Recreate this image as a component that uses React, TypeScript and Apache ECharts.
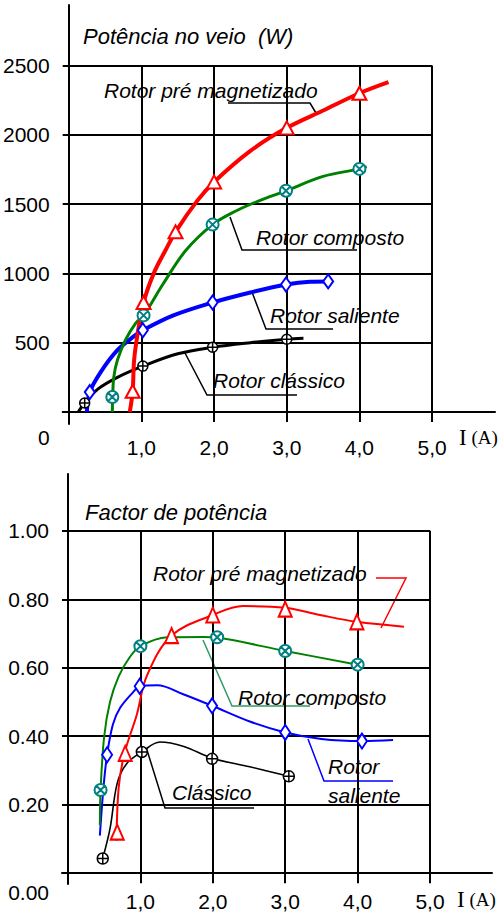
import React, { useEffect, useRef } from "react";
import * as echarts from "echarts";

// ---------- Potência no veio (W) against current I (A) ----------
const preMagPowerPts = [[0.88, 150], [1.03, 790], [1.47, 1300], [2.0, 1660], [3.0, 2050], [4.0, 2300]];
const preMagPowerLine = [[0.84, 0], [0.88, 150], [0.9, 374], [0.95, 570], [1.03, 790], [1.17, 1000], [1.33, 1165], [1.47, 1300], [1.77, 1525], [2.0, 1660], [2.5, 1884], [3.0, 2050], [3.5, 2175], [4.0, 2300], [4.4, 2380]];

const compPowerPts = [[0.6, 108], [1.03, 697], [1.98, 1352], [2.99, 1596], [4.0, 1754]];
const compPowerLine = [[0.6, 0], [0.605, 108], [0.62, 250], [0.67, 374], [0.78, 518], [0.92, 640], [1.03, 697], [1.3, 925], [1.61, 1165], [1.98, 1352], [2.3, 1450], [2.6, 1520], [2.99, 1596], [3.5, 1700], [4.0, 1754], [4.1, 1770]];

const salPowerPts = [[0.29, 144], [1.02, 590], [1.98, 790], [2.99, 920], [3.57, 942]];
const salPowerLine = [[0.25, 0], [0.29, 144], [0.44, 288], [0.67, 446], [0.9, 547], [1.02, 590], [1.44, 697], [1.98, 790], [2.5, 862], [2.99, 920], [3.32, 940], [3.57, 942]];

const clsPowerPts = [[0.22, 65], [1.02, 331], [1.98, 467], [3.0, 525]];
const clsPowerLine = [[0.13, 0], [0.22, 65], [0.4, 165], [0.67, 250], [1.02, 331], [1.5, 420], [1.98, 467], [2.5, 500], [3.0, 525], [3.23, 532]];

// ---------- Factor de potência against current I (A) ----------
const preMagPfPts = [[0.68, 0.12], [0.79, 0.35], [1.43, 0.694], [2.0, 0.754], [3.0, 0.771], [3.99, 0.734]];
const preMagPfLine = [[0.67, 0.095], [0.7, 0.25], [0.78, 0.35], [0.95, 0.463], [1.09, 0.577], [1.43, 0.694], [2.0, 0.754], [2.42, 0.78], [3.0, 0.775], [3.48, 0.754], [3.99, 0.734], [4.64, 0.72]];

const compPfPts = [[0.45, 0.243], [1.0, 0.663], [2.06, 0.689], [3.0, 0.649], [4.0, 0.609]];
const compPfLine = [[0.44, 0.14], [0.45, 0.243], [0.5, 0.4], [0.58, 0.5], [0.7, 0.575], [0.85, 0.63], [1.0, 0.663], [1.37, 0.689], [1.87, 0.69], [2.06, 0.688], [3.0, 0.649], [4.0, 0.609]];

const salPfPts = [[0.54, 0.346], [0.99, 0.546], [1.99, 0.489], [3.0, 0.411], [4.06, 0.386]];
const salPfLine = [[0.44, 0.11], [0.49, 0.25], [0.54, 0.346], [0.62, 0.434], [0.72, 0.483], [0.9, 0.529], [0.99, 0.546], [1.23, 0.549], [1.6, 0.522], [1.99, 0.489], [2.51, 0.443], [3.0, 0.411], [3.5, 0.392], [4.06, 0.386], [4.49, 0.389]];

const clsPfPts = [[0.48, 0.043], [1.02, 0.354], [1.99, 0.334], [3.05, 0.283]];
const clsPfLine = [[0.48, 0.043], [0.58, 0.13], [0.68, 0.263], [0.81, 0.32], [1.02, 0.354], [1.27, 0.383], [1.6, 0.37], [1.99, 0.336], [2.51, 0.311], [3.05, 0.283]];

// ---------- tick values ----------
const currentTicks = [1, 2, 3, 4, 5];
const powerTicks = [0, 500, 1000, 1500, 2000, 2500];
const pfTicks = [0, 0.2, 0.4, 0.6, 0.8, 1.0];

const FONT = "'Liberation Sans', Arial, sans-serif";
const SERIF = "'Liberation Serif', 'Times New Roman', serif";
const RED = "#ff0000";
const GREEN = "#008000";
const TEAL = "#008080";
const BLUE = "#0000ff";
const BLACK = "#000000";
const LEAD_GREEN = "#339966";

const ringX = "path://M1,10A9,9,0,1,1,19,10A9,9,0,1,1,1,10Z M3.64,3.64L16.36,16.36 M16.36,3.64L3.64,16.36";
const ringPlus = "path://M1,10A9,9,0,1,1,19,10A9,9,0,1,1,1,10Z M10,1L10,19 M1,10L19,10";

const xAxisFor = (gi: number, min: number, max: number, margin: number) => ({
  type: "value",
  gridIndex: gi,
  min,
  max,
  axisLine: { show: true, onZero: true, lineStyle: { color: BLACK, width: 2 } },
  axisTick: { show: true, customValues: currentTicks, length: 10, inside: false, lineStyle: { color: BLACK, width: 2 } },
  axisLabel: {
    show: true,
    customValues: currentTicks,
    margin,
    color: BLACK,
    fontSize: 21,
    fontFamily: FONT,
    formatter: (v: number) => v.toFixed(1).replace(".", ","),
  },
  splitLine: { show: false },
});

const yAxisFor = (gi: number, min: number, max: number, ticks: number[], fmt: (v: number) => string, zeroDrop: number) => ({
  type: "value",
  gridIndex: gi,
  min,
  max,
  axisLine: { show: true, onZero: true, lineStyle: { color: BLACK, width: 2 } },
  axisTick: { show: true, customValues: ticks, length: 6, inside: false, lineStyle: { color: BLACK, width: 2 } },
  axisLabel: {
    show: true,
    customValues: ticks,
    margin: 13,
    color: BLACK,
    fontSize: 21,
    fontFamily: FONT,
    formatter: (v: number) => (v === 0 ? `{z|${fmt(v)}}` : fmt(v)),
    rich: { z: { fontSize: 21, fontFamily: FONT, color: BLACK, padding: [zeroDrop, 0, 0, 0] } },
  },
  splitLine: { show: false },
});

// grid lines drawn as mark lines, limited to the 0..5 A and 0..top-tick box
const gridLines = (gi: number, yTicks: number[]) => {
  const xEnd = currentTicks[currentTicks.length - 1];
  const yEnd = yTicks[yTicks.length - 1];
  return {
    type: "line",
    xAxisIndex: gi,
    yAxisIndex: gi,
    data: [],
    z: 1,
    silent: true,
    markLine: {
      silent: true,
      animation: false,
      symbol: ["none", "none"],
      label: { show: false },
      emphasis: { disabled: true },
      lineStyle: { color: BLACK, width: 2, type: "solid" },
      data: [
        ...currentTicks.map((x) => [{ coord: [x, 0] }, { coord: [x, yEnd] }]),
        ...yTicks.filter((y) => y > 0).map((y) => [{ coord: [0, y] }, { coord: [xEnd, y] }]),
      ],
    },
  };
};

const curve = (gi: number, data: number[][], color: string, width: number) => ({
  type: "line",
  xAxisIndex: gi,
  yAxisIndex: gi,
  data,
  smooth: 0.35,
  showSymbol: false,
  symbol: "none",
  silent: true,
  z: 5,
  lineStyle: { color, width },
});

const marks = (gi: number, data: number[][], symbol: string, size: number | number[], color: string, bw: number) => ({
  type: "scatter",
  xAxisIndex: gi,
  yAxisIndex: gi,
  data,
  symbol,
  symbolSize: size,
  silent: true,
  z: 6,
  itemStyle: { color: "#ffffff", borderColor: color, borderWidth: bw, opacity: 1 },
});

// annotation text with a white box that interrupts the grid
const note = (text: string, left: number, cy: number, pad: number[], fontSize = 21, lineHeight?: number) => ({
  type: "text",
  z: 3,
  silent: true,
  style: {
    text,
    x: left - pad[3],
    y: cy - (pad[0] - pad[2]) / 2,
    align: "left",
    verticalAlign: "middle",
    fontSize,
    fontStyle: "italic",
    fontFamily: FONT,
    fill: BLACK,
    lineHeight,
    backgroundColor: "#ffffff",
    padding: pad,
  },
});

const leader = (points: number[][], color: string, width = 1.5) => ({
  type: "polyline",
  z: 4,
  silent: true,
  shape: { points },
  style: { stroke: color, lineWidth: width, fill: "none" },
});

const title = (text: string, left: number, cy: number) => ({
  type: "text",
  z: 3,
  silent: true,
  style: { text, x: left, y: cy, align: "left", verticalAlign: "middle", fontSize: 22, fontStyle: "italic", fontFamily: FONT, fill: BLACK },
});

const unitLabel = (left: number, cy: number) => ({
  type: "text",
  z: 3,
  silent: true,
  style: {
    text: "{i|I}{a| (A)}",
    x: left,
    y: cy,
    align: "left",
    verticalAlign: "middle",
    rich: {
      i: { fontFamily: SERIF, fontSize: 23, fill: BLACK, color: BLACK },
      a: { fontFamily: SERIF, fontSize: 19, fill: BLACK, color: BLACK },
    },
  },
});

export default function App() {
  const ref = useRef<HTMLDivElement>(null);

  useEffect(() => {
    if (!ref.current) return;
    const chart = echarts.init(ref.current, undefined, { renderer: "svg" });
    chart.setOption({
      animation: false,
      backgroundColor: "#ffffff",
      textStyle: { fontFamily: FONT },
      grid: [
        { left: 62, top: 5, width: 433, height: 419 },
        { left: 62, top: 474, width: 430, height: 419 },
      ],
      xAxis: [xAxisFor(0, -0.0824, 5.8654, 13), xAxisFor(1, -0.0829, 5.856, 7)],
      yAxis: [
        yAxisFor(0, -86.6, 2936.5, powerTicks, (v) => String(v), 52),
        yAxisFor(1, -0.0314, 1.1657, pfTicks, (v) => v.toFixed(2), 38),
      ],
      series: [
        gridLines(0, powerTicks),
        gridLines(1, pfTicks),

        curve(0, clsPowerLine, BLACK, 3),
        curve(0, salPowerLine, BLUE, 4),
        curve(0, compPowerLine, GREEN, 3),
        curve(0, preMagPowerLine, RED, 4),
        marks(0, clsPowerPts, ringPlus, 10, BLACK, 1.5),
        marks(0, salPowerPts, "diamond", [10, 14], BLUE, 2),
        marks(0, compPowerPts, ringX, 12, TEAL, 2),
        marks(0, preMagPowerPts, "triangle", [14, 13], RED, 2),

        curve(1, clsPfLine, BLACK, 1.6),
        curve(1, salPfLine, BLUE, 2),
        curve(1, compPfLine, GREEN, 2),
        curve(1, preMagPfLine, RED, 2),
        marks(1, clsPfPts, ringPlus, 11, BLACK, 1.5),
        marks(1, salPfPts, "diamond", [10, 15], BLUE, 2),
        marks(1, compPfPts, ringX, 12, TEAL, 2),
        marks(1, preMagPfPts, "triangle", [13, 15], RED, 2),
      ],
      graphic: [
        title("Potência no veio  (W)", 83, 36),
        note("Rotor pré magnetizado", 104, 90, [2, 6, 2, 6]),
        note("Rotor composto", 256, 237, [13, 6, 13, 6]),
        note("Rotor saliente", 270, 315, [5, 6, 6, 6]),
        note("Rotor clássico", 213, 386, [18, 14, 6, 6]),
        leader([[228, 103], [310, 103], [316, 113]], BLACK),
        leader([[230, 217], [242, 250], [357, 250]], BLACK),
        leader([[252, 292], [266, 329], [333, 329]], BLACK),
        leader([[185, 353], [207, 395], [297, 395]], BLACK),
        unitLabel(459, 437),

        title("Factor de potência", 85, 512),
        note("Rotor pré magnetizado", 153, 579, [12, 6, 1, 18]),
        note("Rotor composto", 238, 697, [13, 6, 13, 6]),
        note("Rotor\nsaliente", 328, 779, [0, 6, 3, 6], 21, 29),
        note("Clássico", 172, 796, [9, 6, 1, 6]),
        leader([[376, 578], [406, 578], [381, 628]], RED),
        leader([[203, 640], [232, 706], [310, 706]], LEAD_GREEN),
        leader([[308, 739], [324, 781], [393, 781]], BLUE),
        leader([[147, 750], [165, 808], [254, 808]], BLACK),
        unitLabel(457, 899),
      ],
    });
    return () => chart.dispose();
  }, []);

  return <div ref={ref} style={{ position: "absolute", left: 0, top: 0, width: 502, height: 912 }} />;
}
